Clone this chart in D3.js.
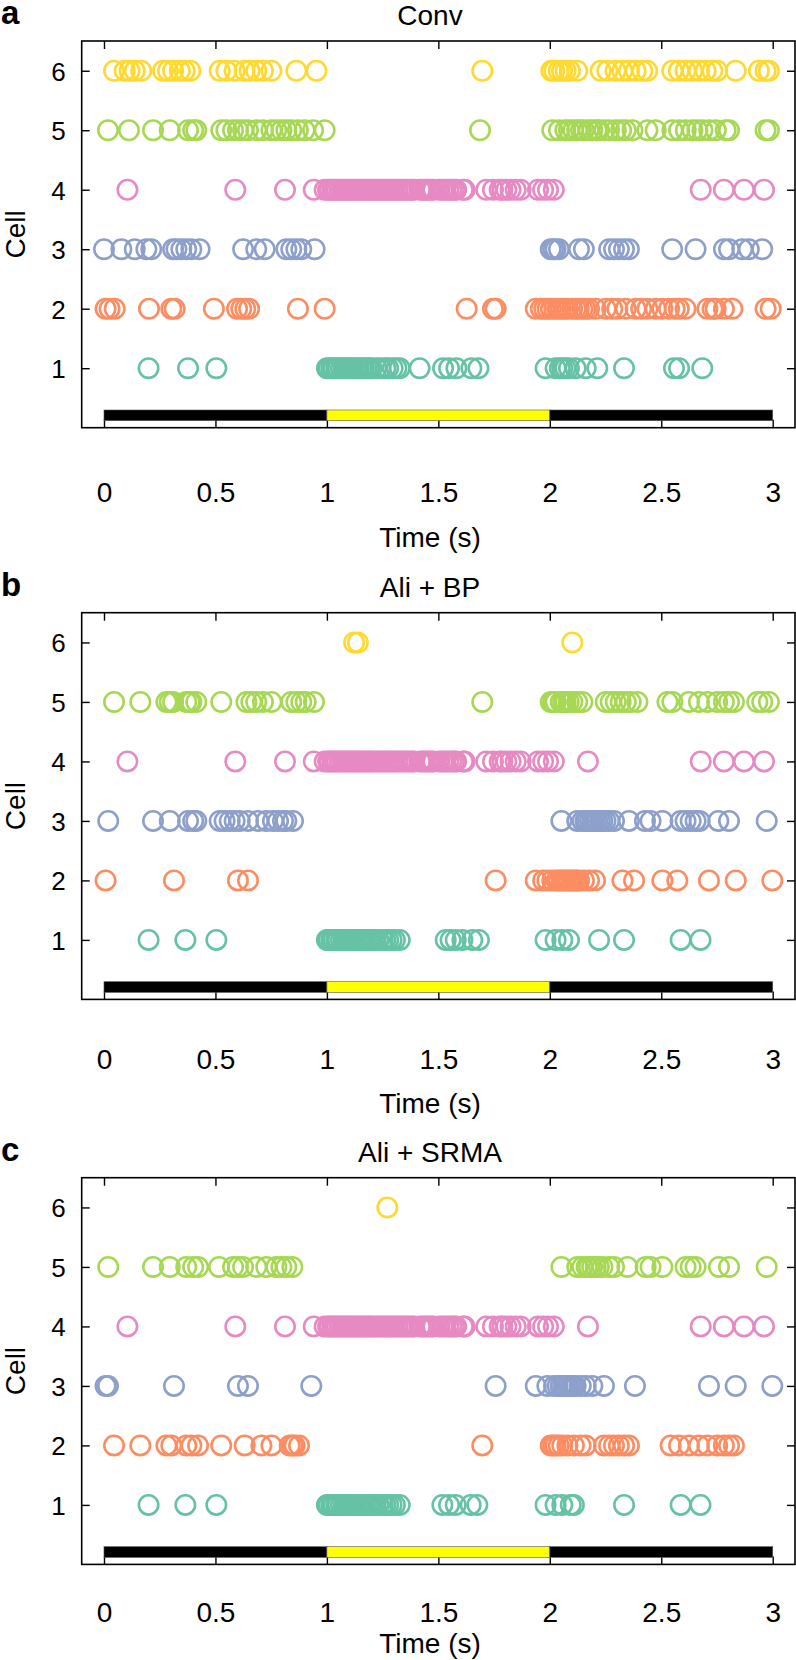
<!DOCTYPE html>
<html>
<head>
<meta charset="utf-8">
<script src="https://cdn.jsdelivr.net/npm/d3@7"></script>
<style>
  html, body { margin: 0; padding: 0; background: #fff; }
  svg { display: block; }
  text { font-family: "Liberation Sans", Arial, Helvetica, sans-serif; fill: #000; }
</style>
</head>
<body>
<svg id="chart" width="796" height="1660"></svg>
<script>
// ---------------- DATA ----------------
const panelLetters = ["a", "b", "c"];
const panelTitles = ["Conv", "Ali + BP", "Ali + SRMA"];
const cells = [1, 2, 3, 4, 5, 6];
const xTicks = [0, 0.5, 1, 1.5, 2, 2.5, 3];
const xTickLabels = ["0", "0.5", "1", "1.5", "2", "2.5", "3"];
const stimulusEdges = [0, 1, 2, 3];
const stimulusPhases = ["off", "on", "off"];

// spike times (s), panel a: Conv
const conv1 = [0.2, 0.377, 0.504, 1.0, 1.008, 1.02, 1.03, 1.042, 1.05, 1.063, 1.075, 1.085, 1.097, 1.11, 1.118, 1.13, 1.142, 1.155, 1.165, 1.178, 1.19, 1.2, 1.222, 1.24, 1.262, 1.275, 1.295, 1.312, 1.327, 1.416, 1.521, 1.548, 1.581, 1.648, 1.68, 1.981, 2.026, 2.045, 2.056, 2.07, 2.086, 2.116, 2.161, 2.213, 2.333, 2.557, 2.58, 2.684];
const conv2 = [0.007, 0.025, 0.048, 0.202, 0.302, 0.317, 0.493, 0.597, 0.616, 0.634, 0.651, 0.87, 0.99, 1.627, 1.745, 1.757, 1.937, 1.96, 1.975, 1.99, 2.005, 2.02, 2.035, 2.05, 2.065, 2.08, 2.1, 2.116, 2.13, 2.146, 2.16, 2.176, 2.206, 2.251, 2.28, 2.303, 2.341, 2.385, 2.41, 2.438, 2.475, 2.505, 2.535, 2.56, 2.579, 2.609, 2.707, 2.73, 2.744, 2.781, 2.819, 2.968, 2.991];
const conv3 = [0.0, 0.078, 0.138, 0.19, 0.212, 0.31, 0.325, 0.347, 0.369, 0.392, 0.429, 0.624, 0.683, 0.721, 0.818, 0.84, 0.863, 0.885, 0.945, 2.004, 2.015, 2.026, 2.041, 2.131, 2.153, 2.266, 2.288, 2.31, 2.333, 2.355, 2.549, 2.654, 2.781, 2.804, 2.863, 2.893, 2.953];
const conv4 = [0.105, 0.589, 0.812, 0.941, 0.99, 1.005, 1.013, 1.025, 1.035, 1.045, 1.057, 1.068, 1.078, 1.09, 1.1, 1.112, 1.122, 1.135, 1.145, 1.157, 1.168, 1.18, 1.19, 1.2, 1.213, 1.225, 1.237, 1.248, 1.26, 1.272, 1.283, 1.295, 1.305, 1.318, 1.33, 1.342, 1.355, 1.367, 1.38, 1.39, 1.418, 1.43, 1.442, 1.455, 1.468, 1.478, 1.505, 1.518, 1.53, 1.545, 1.558, 1.57, 1.58, 1.61, 1.618, 1.715, 1.745, 1.775, 1.787, 1.805, 1.824, 1.847, 1.869, 1.947, 1.97, 1.992, 2.018, 2.677, 2.781, 2.871, 2.961];
const conv5 = [0.018, 0.112, 0.22, 0.295, 0.377, 0.4, 0.414, 0.526, 0.549, 0.579, 0.601, 0.624, 0.646, 0.683, 0.713, 0.751, 0.773, 0.796, 0.818, 0.84, 0.87, 0.9, 0.938, 0.99, 1.687, 2.011, 2.041, 2.07, 2.086, 2.105, 2.123, 2.14, 2.153, 2.175, 2.191, 2.21, 2.221, 2.245, 2.266, 2.296, 2.32, 2.341, 2.371, 2.438, 2.475, 2.55, 2.58, 2.61, 2.64, 2.662, 2.685, 2.715, 2.745, 2.789, 2.804, 2.968, 2.983];
const conv6 = [0.045, 0.093, 0.115, 0.138, 0.167, 0.265, 0.287, 0.31, 0.34, 0.362, 0.387, 0.519, 0.549, 0.586, 0.631, 0.653, 0.683, 0.713, 0.751, 0.863, 0.953, 1.697, 2.007, 2.02, 2.04, 2.055, 2.071, 2.09, 2.123, 2.228, 2.258, 2.295, 2.325, 2.355, 2.385, 2.415, 2.437, 2.549, 2.579, 2.609, 2.639, 2.669, 2.699, 2.729, 2.751, 2.834, 2.938, 2.968, 2.983];

// panel b: Ali + BP
const bp1 = [0.2, 0.365, 0.504, 1.0, 1.008, 1.02, 1.03, 1.042, 1.05, 1.063, 1.075, 1.085, 1.097, 1.11, 1.118, 1.13, 1.142, 1.155, 1.165, 1.178, 1.19, 1.2, 1.215, 1.232, 1.25, 1.262, 1.275, 1.29, 1.305, 1.327, 1.533, 1.555, 1.578, 1.608, 1.652, 1.682, 1.981, 2.026, 2.056, 2.086, 2.221, 2.333, 2.587, 2.676];
const bp2 = [0.007, 0.314, 0.601, 0.646, 1.757, 1.937, 1.97, 1.989, 2.011, 2.03, 2.041, 2.055, 2.064, 2.075, 2.086, 2.098, 2.108, 2.12, 2.131, 2.153, 2.176, 2.203, 2.326, 2.378, 2.505, 2.572, 2.714, 2.834, 2.998];
const bp3 = [0.019, 0.22, 0.295, 0.377, 0.4, 0.414, 0.519, 0.541, 0.564, 0.586, 0.609, 0.646, 0.691, 0.728, 0.758, 0.781, 0.803, 0.818, 0.848, 2.052, 2.123, 2.146, 2.16, 2.168, 2.18, 2.191, 2.2, 2.213, 2.225, 2.236, 2.25, 2.266, 2.288, 2.355, 2.427, 2.452, 2.505, 2.587, 2.609, 2.632, 2.654, 2.672, 2.756, 2.804, 2.973];
const bp4 = [0.105, 0.589, 0.812, 0.941, 0.99, 1.005, 1.013, 1.025, 1.035, 1.045, 1.057, 1.068, 1.078, 1.09, 1.1, 1.112, 1.122, 1.135, 1.145, 1.157, 1.168, 1.18, 1.19, 1.2, 1.213, 1.225, 1.237, 1.248, 1.26, 1.272, 1.283, 1.295, 1.305, 1.318, 1.33, 1.342, 1.355, 1.367, 1.38, 1.39, 1.418, 1.43, 1.442, 1.455, 1.468, 1.478, 1.505, 1.518, 1.53, 1.545, 1.558, 1.57, 1.58, 1.61, 1.618, 1.715, 1.745, 1.775, 1.787, 1.805, 1.824, 1.847, 1.869, 1.947, 1.97, 1.992, 2.018, 2.171, 2.677, 2.781, 2.871, 2.961];
const bp5 = [0.045, 0.163, 0.28, 0.295, 0.31, 0.369, 0.384, 0.392, 0.414, 0.526, 0.639, 0.661, 0.683, 0.713, 0.751, 0.84, 0.863, 0.885, 0.905, 0.942, 1.697, 2.004, 2.015, 2.026, 2.049, 2.06, 2.071, 2.085, 2.101, 2.123, 2.146, 2.251, 2.273, 2.296, 2.318, 2.341, 2.363, 2.393, 2.528, 2.55, 2.624, 2.669, 2.707, 2.751, 2.781, 2.804, 2.826, 2.931, 2.953, 2.983];
const bp6 = [1.122, 1.139, 2.101];

// panel c: Ali + SRMA
const srma1 = [0.2, 0.365, 0.504, 1.0, 1.008, 1.02, 1.03, 1.042, 1.05, 1.063, 1.075, 1.085, 1.097, 1.11, 1.118, 1.13, 1.142, 1.155, 1.165, 1.178, 1.19, 1.2, 1.215, 1.232, 1.25, 1.262, 1.275, 1.29, 1.305, 1.327, 1.518, 1.548, 1.578, 1.645, 1.675, 1.981, 2.026, 2.056, 2.094, 2.108, 2.333, 2.587, 2.676];
const srma2 = [0.045, 0.163, 0.28, 0.302, 0.369, 0.392, 0.422, 0.526, 0.631, 0.706, 0.751, 0.833, 0.845, 0.855, 0.875, 1.697, 2.004, 2.015, 2.026, 2.04, 2.056, 2.079, 2.108, 2.138, 2.161, 2.243, 2.266, 2.288, 2.31, 2.333, 2.355, 2.542, 2.58, 2.624, 2.669, 2.707, 2.751, 2.781, 2.804, 2.826];
const srma3 = [0.007, 0.018, 0.314, 0.601, 0.646, 0.93, 1.757, 1.937, 1.989, 2.019, 2.035, 2.049, 2.06, 2.071, 2.083, 2.094, 2.105, 2.116, 2.139, 2.161, 2.191, 2.243, 2.382, 2.714, 2.834, 2.998];
const srma4 = [0.105, 0.589, 0.812, 0.941, 0.99, 1.005, 1.013, 1.025, 1.035, 1.045, 1.057, 1.068, 1.078, 1.09, 1.1, 1.112, 1.122, 1.135, 1.145, 1.157, 1.168, 1.18, 1.19, 1.2, 1.213, 1.225, 1.237, 1.248, 1.26, 1.272, 1.283, 1.295, 1.305, 1.318, 1.33, 1.342, 1.355, 1.367, 1.38, 1.39, 1.418, 1.43, 1.442, 1.455, 1.468, 1.478, 1.505, 1.518, 1.53, 1.545, 1.558, 1.57, 1.58, 1.61, 1.618, 1.715, 1.745, 1.775, 1.787, 1.805, 1.824, 1.847, 1.869, 1.947, 1.97, 1.992, 2.018, 2.171, 2.677, 2.781, 2.871, 2.961];
const srma5 = [0.019, 0.22, 0.295, 0.369, 0.4, 0.422, 0.516, 0.579, 0.601, 0.624, 0.683, 0.728, 0.773, 0.796, 0.818, 0.845, 2.052, 2.123, 2.146, 2.165, 2.176, 2.19, 2.206, 2.22, 2.236, 2.266, 2.288, 2.348, 2.43, 2.452, 2.505, 2.609, 2.632, 2.654, 2.759, 2.804, 2.973];
const srma6 = [1.271];

const panelSpikes = [
  [conv1, conv2, conv3, conv4, conv5, conv6],
  [bp1, bp2, bp3, bp4, bp5, bp6],
  [srma1, srma2, srma3, srma4, srma5, srma6]
];

// ---------------- STYLE / LAYOUT ----------------
const cellColors = ["#66C2A5", "#FC8D62", "#8DA0CB", "#E78AC3", "#A6D854", "#FFD92F"];
const phaseColor = { off: "#000000", on: "#FFFF00" };
const panelTops = [41, 612.7, 1177.7];
const tickLabelOffsets = [74, 70, 58];
const axisTitleOffsets = [119, 114, 89];
const plotH = 386.7;
const left = 81.7, right = 795;
const titleX = 430;

const svg = d3.select("#chart");
const x = d3.scaleLinear().domain([-0.1, 3.1]).range([left, right]);

panelTitles.forEach((title, p) => {
  const top = panelTops[p];
  const bottom = top + plotH;
  const y = d3.scaleLinear().domain([0, 6.5]).range([bottom, top]);
  const g = svg.append("g");

  // panel letter
  g.append("text").attr("x", 1).attr("y", top - 17)
    .style("font-size", "33px").style("font-weight", "bold")
    .text(panelLetters[p]);
  // title
  g.append("text").attr("x", titleX).attr("y", top - 16)
    .attr("text-anchor", "middle").style("font-size", "28px")
    .text(title);

  // axes (inward ticks)
  const bAxis = d3.axisBottom(x).tickValues(xTicks).tickSizeInner(-8).tickSizeOuter(0)
    .tickFormat((d, i) => xTickLabels[i]);
  const gb = g.append("g").attr("transform", `translate(0,${bottom})`).call(bAxis);
  gb.select(".domain").remove();
  gb.selectAll(".tick line").attr("stroke", "#000").attr("stroke-width", 1.4);
  gb.selectAll(".tick text").attr("y", tickLabelOffsets[p]).attr("dy", 0).style("font-size", "28px")
    .style("font-family", '"Liberation Sans", Arial, sans-serif').attr("fill", "#000");

  const tAxis = d3.axisTop(x).tickValues(xTicks).tickSizeInner(-8).tickSizeOuter(0).tickFormat("");
  const gt = g.append("g").attr("transform", `translate(0,${top})`).call(tAxis);
  gt.select(".domain").remove();
  gt.selectAll(".tick line").attr("stroke", "#000").attr("stroke-width", 1.4);

  const lAxis = d3.axisLeft(y).tickValues(cells).tickSizeInner(-8).tickSizeOuter(0).tickPadding(16)
    .tickFormat(d3.format("d"));
  const gl = g.append("g").attr("transform", `translate(${left},0)`).call(lAxis);
  gl.select(".domain").remove();
  gl.selectAll(".tick line").attr("stroke", "#000").attr("stroke-width", 1.4);
  gl.selectAll(".tick text").style("font-size", "26px")
    .style("font-family", '"Liberation Sans", Arial, sans-serif').attr("fill", "#000").attr("dy", "0.36em");

  const rAxis = d3.axisRight(y).tickValues(cells).tickSizeInner(-8).tickSizeOuter(0).tickFormat("");
  const gr = g.append("g").attr("transform", `translate(${right},0)`).call(rAxis);
  gr.select(".domain").remove();
  gr.selectAll(".tick line").attr("stroke", "#000").attr("stroke-width", 1.4);

  // stimulus bar
  const segs = stimulusPhases.map((ph, i) => ({ s: stimulusEdges[i], e: stimulusEdges[i + 1], ph }));
  g.selectAll("rect.stim").data(segs).join("rect").attr("class", "stim")
    .attr("x", d => x(d.s)).attr("width", d => x(d.e) - x(d.s))
    .attr("y", bottom - 17.7).attr("height", 10.7)
    .attr("fill", d => phaseColor[d.ph]).attr("stroke", "#555").attr("stroke-width", 0.6);

  // frame
  g.append("rect").attr("x", left).attr("y", top).attr("width", right - left).attr("height", plotH)
    .attr("fill", "none").attr("stroke", "#000").attr("stroke-width", 1.6);

  // spikes
  panelSpikes[p].forEach((times, ci) => {
    g.append("g").selectAll("circle").data(times).join("circle")
      .attr("cx", d => x(d)).attr("cy", y(cells[ci])).attr("r", 9.7)
      .attr("fill", "none").attr("stroke", cellColors[ci]).attr("stroke-width", 2.6);
  });

  // axis labels
  g.append("text").attr("x", titleX).attr("y", bottom + axisTitleOffsets[p])
    .attr("text-anchor", "middle").style("font-size", "28px").text("Time (s)");
  g.append("text").attr("transform", `translate(25,${(top + bottom) / 2}) rotate(-90)`)
    .attr("text-anchor", "middle").style("font-size", "28px").text("Cell");
});
</script>
</body>
</html>
